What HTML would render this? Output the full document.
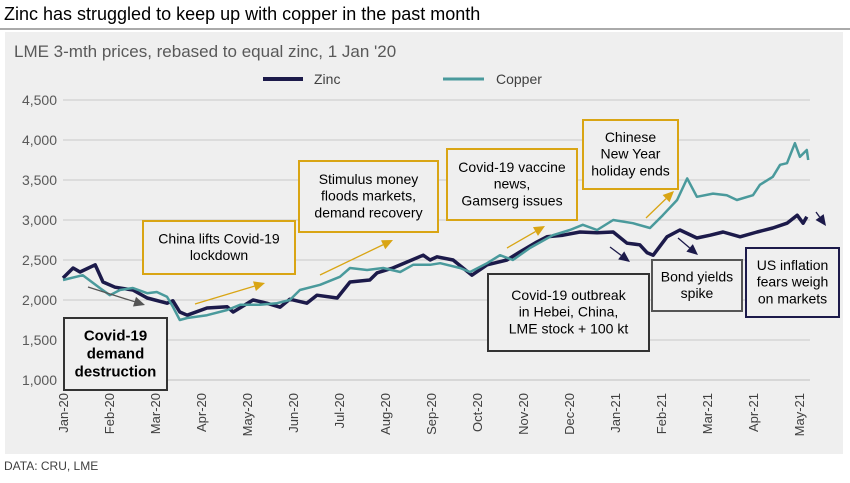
<!DOCTYPE html>
<html><head><meta charset="utf-8"><style>
body{margin:0;width:850px;height:478px;background:#fff;font-family:"Liberation Sans",Arial,sans-serif;overflow:hidden}
</style></head><body>
<svg width="850" height="478" xmlns="http://www.w3.org/2000/svg" font-family="Liberation Sans, Arial, sans-serif">
<text x="4" y="20" font-size="18" fill="#000">Zinc has struggled to keep up with copper in the past month</text>
<line x1="0" y1="29" x2="850" y2="29" stroke="#555" stroke-width="1"/>
<rect x="5" y="32" width="838" height="422" fill="#efefef"/>
<text x="14" y="57" font-size="17" fill="#595959">LME 3-mth prices, rebased to equal zinc, 1 Jan '20</text>
<g>
<line x1="263" y1="79" x2="303" y2="79" stroke="#1c1a4a" stroke-width="4"/>
<text x="314" y="84" font-size="14" fill="#404040">Zinc</text>
<line x1="443" y1="79" x2="484" y2="79" stroke="#4a9a9c" stroke-width="3"/>
<text x="496" y="84" font-size="14" fill="#404040">Copper</text>
</g>
<g id="grid"></g><g id="yt"></g><g id="xt"></g><g id="series"></g>
<g id="ann"></g>
<text x="4" y="470" font-size="12" fill="#404040">DATA: CRU, LME</text>
</svg>
<script>
const yTicks=[1000,1500,2000,2500,3000,3500,4000,4500];
const months=["Jan-20","Feb-20","Mar-20","Apr-20","May-20","Jun-20","Jul-20","Aug-20","Sep-20","Oct-20","Nov-20","Dec-20","Jan-21","Feb-21","Mar-21","Apr-21","May-21"];
const zincT=[0,.22,.37,.70,.87,1.13,1.52,1.83,2.26,2.39,2.54,2.70,3.13,3.57,3.70,4.13,4.43,4.72,4.93,5.30,5.52,5.96,6.24,6.67,6.83,7.17,7.48,7.83,7.98,8.13,8.48,8.89,9.22,9.65,9.93,10.30,10.52,10.87,11.24,11.61,11.96,12.26,12.54,12.70,12.83,13.13,13.41,13.78,14.07,14.35,14.72,15.09,15.43,15.74,15.96,16.09,16.17];
const zincV=[2275,2400,2350,2440,2225,2160,2125,2025,1960,1990,1850,1810,1900,1915,1850,2000,1960,1910,2010,1960,2060,2025,2225,2250,2340,2400,2475,2560,2500,2540,2500,2310,2440,2500,2600,2725,2790,2810,2850,2840,2850,2710,2690,2590,2560,2790,2875,2775,2810,2850,2790,2850,2900,2960,3060,2960,3040];
const copperT=[0,.43,.80,1.02,1.24,1.52,1.83,2.04,2.26,2.39,2.54,2.70,3.13,3.57,3.85,4.28,4.65,4.93,5.15,5.59,6.02,6.24,6.61,6.96,7.33,7.61,7.98,8.20,8.63,8.85,9.22,9.50,9.78,10.15,10.65,11.02,11.30,11.61,11.96,12.39,12.76,13.04,13.35,13.57,13.78,14.13,14.43,14.65,15.00,15.15,15.43,15.59,15.74,15.91,16.02,16.17,16.20];
const copperV=[2250,2310,2150,2060,2125,2150,2085,2100,2040,1915,1750,1775,1810,1875,1940,1940,1960,2000,2125,2190,2290,2400,2375,2400,2350,2440,2440,2460,2400,2350,2460,2560,2500,2650,2810,2875,2940,2875,3000,2960,2900,3060,3250,3520,3290,3330,3310,3250,3310,3440,3540,3690,3710,3960,3790,3875,3750];
const NS="http://www.w3.org/2000/svg";
const X0=63,MW=46,Y0=380,YS=0.08;
const xs=t=>X0+t*MW, ys=v=>Y0-(v-1000)*YS;
function mk(tag,attrs,parent){const e=document.createElementNS(NS,tag);for(const k in attrs)e.setAttribute(k,attrs[k]);parent.appendChild(e);return e;}
const grid=document.getElementById('grid'),yt=document.getElementById('yt'),xt=document.getElementById('xt');
yTicks.forEach(v=>{
 const l=mk('line',{x1:X0,x2:810,y1:ys(v),y2:ys(v),stroke:v===1000?'#bfbfbf':'#c8c8c8','stroke-width':1},grid);
 
 
 const t=mk('text',{x:57,y:ys(v)+5,'text-anchor':'end','font-size':14,fill:'#595959'},yt);
 t.textContent=v.toLocaleString('en-US');
 
 
});
months.forEach((m,i)=>{
 const x=xs(i);
 const t=mk('text',{transform:`translate(${x+5},393) rotate(-90)`,'text-anchor':'end','font-size':13,fill:'#404040'},xt);
 t.textContent=m;
 
 
});
function line(T,V,col,w,name){
 const d=T.map((t,i)=>(i?'L':'M')+xs(t).toFixed(1)+','+ys(V[i]).toFixed(1)).join('');
 const p=mk('path',{d:d,fill:'none',stroke:col,'stroke-width':w,'stroke-linejoin':'round'},document.getElementById('series'));
 
 
}
line(zincT,zincV,'#1c1a4a',3.5,'zinc-line');
line(copperT,copperV,'#4a9a9c',2.5,'copper-line');
const ann=document.getElementById('ann');
function arrow(x1,y1,x2,y2,col,name){
 const g=mk('g',{},ann);
 
 
 const a=Math.atan2(y2-y1,x2-x1),L=11,W=5;
 const bx=x2-L*Math.cos(a),by=y2-L*Math.sin(a);
 mk('line',{x1:x1,y1:y1,x2:bx,y2:by,stroke:col,'stroke-width':1.3},g);
 mk('polygon',{points:`${x2},${y2} ${bx-W*Math.sin(a)},${by+W*Math.cos(a)} ${bx+W*Math.sin(a)},${by-W*Math.cos(a)}`,fill:col},g);
}
function box(x,y,w,h,col,lines,name,bold,size){
 const g=mk('g',{},ann);
 
 
 mk('rect',{x:x,y:y,width:w,height:h,fill:'#efefef',stroke:col,'stroke-width':2},g);
 const lh=size*1.2,top=y+h/2-(lines.length*lh)/2+size*0.9;
 lines.forEach((s,i)=>{const t=mk('text',{x:x+w/2,y:top+i*lh,'text-anchor':'middle','font-size':size,fill:'#000','font-weight':bold?'bold':'normal'},g);t.textContent=s;});
}
const gold='#d9a514',navy='#1c1a4a';
arrow(88,287,145,305,'#555','arrow-demand');
arrow(195,304,265,283,gold,'arrow-china');
arrow(320,275,393,240,gold,'arrow-stimulus');
arrow(507,248,545,226,gold,'arrow-vaccine');
arrow(646,218,674,191,gold,'arrow-cny');
arrow(610,247,630,262,navy,'arrow-hebei');
arrow(678,238,698,255,navy,'arrow-bond');
arrow(816,212,826,226,navy,'arrow-inflation');
box(64,318,103,72,'#333',['Covid-19','demand','destruction'],'box-demand-destruction',true,15);
box(143,221,152,53,gold,['China lifts Covid-19','lockdown'],'box-china-lockdown',false,14);
box(299,161,139,71,gold,['Stimulus money','floods markets,','demand recovery'],'box-stimulus',false,14);
box(447,149,130,71,gold,['Covid-19 vaccine','news,','Gamserg issues'],'box-vaccine',false,14);
box(583,120,95,69,gold,['Chinese','New Year','holiday ends'],'box-cny',false,14);
box(488,274,161,77,'#333',['Covid-19 outbreak','in Hebei, China,','LME stock + 100 kt'],'box-hebei',false,14);
box(652,260,90,51,'#555',['Bond yields','spike'],'box-bond-yields',false,14);
box(746,248,93,69,navy,['US inflation','fears weigh','on markets'],'box-us-inflation',false,14);
</script>
</body></html>
